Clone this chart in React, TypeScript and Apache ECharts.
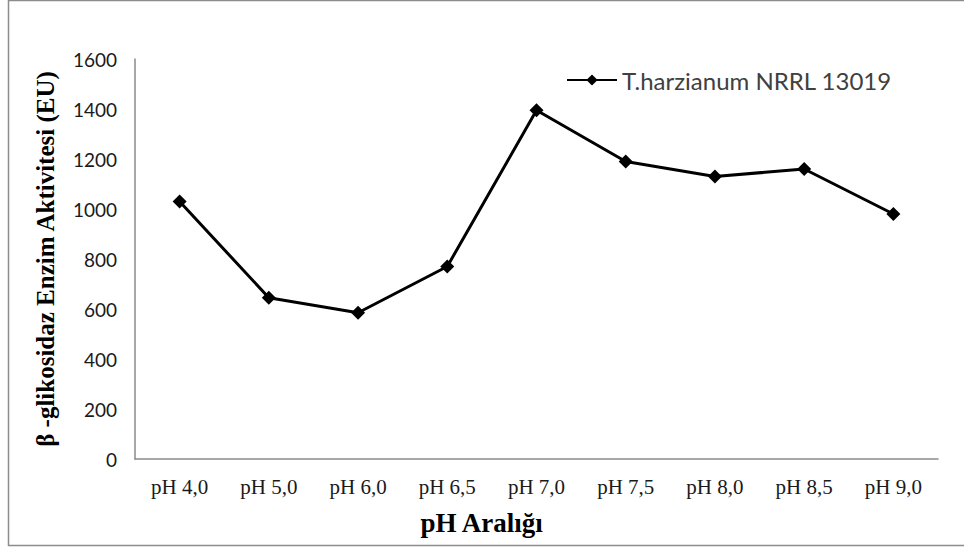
import React, { useEffect, useRef } from "react";
import * as echarts from "echarts";

const categories = ["pH 4,0", "pH 5,0", "pH 6,0", "pH 6,5", "pH 7,0", "pH 7,5", "pH 8,0", "pH 8,5", "pH 9,0"];
const seriesName = "T.harzianum NRRL 13019";
const activity = [1030, 645, 585, 770, 1395, 1190, 1130, 1160, 980];
const yMin = 0;
const yMax = 1600;
const yStep = 200;
const xTitle = "pH Aralığı";
const yTitle = "β -glikosidaz Enzim Aktivitesi (EU)";

export default function App() {
  const ref = useRef<HTMLDivElement>(null);
  useEffect(() => {
    if (!ref.current) return;
    const chart = echarts.init(ref.current, undefined, { renderer: "svg" });
    chart.setOption({
      animation: false,
      backgroundColor: "#ffffff",
      graphic: [
        {
          type: "rect",
          shape: { x: 8.5, y: 0.5, width: 1000, height: 545 },
          style: { fill: "none", stroke: "#8c8c8c", lineWidth: 1.5 },
          silent: true,
        },
      ],
      grid: { left: 135, right: 26, top: 59, bottom: 89, containLabel: false },
      legend: {
        left: 561,
        top: 63,
        itemWidth: 50,
        itemHeight: 14,
        itemGap: 5,
        data: [seriesName],
        textStyle: { fontFamily: "Lato", fontSize: 24, color: "#404040" },
      },
      xAxis: {
        type: "category",
        data: categories,
        boundaryGap: true,
        axisLine: { lineStyle: { color: "#8a8a8a", width: 1.5 } },
        axisTick: { show: false },
        axisLabel: { margin: 17, fontFamily: "Liberation Serif", fontSize: 21, color: "#1a1a1a" },
        name: xTitle,
        nameLocation: "middle",
        nameGap: 50,
        nameTextStyle: {
          fontFamily: "Liberation Serif",
          fontWeight: "bold",
          fontSize: 27,
          color: "#000",
          padding: [0, 110, 0, 0],
        },
      },
      yAxis: {
        type: "value",
        min: yMin,
        max: yMax,
        interval: yStep,
        splitLine: { show: false },
        axisLine: { show: true, lineStyle: { color: "#8a8a8a", width: 1.5 } },
        axisTick: { show: false },
        axisLabel: {
          margin: 18,
          fontFamily: "Lato",
          fontSize: 19,
          color: "#1a1a1a",
          formatter: (v: number) => String(v),
        },
        name: yTitle,
        nameLocation: "middle",
        nameGap: 77,
        nameRotate: 90,
        nameTextStyle: {
          fontFamily: "Liberation Serif",
          fontWeight: "bold",
          fontSize: 25,
          color: "#000",
        },
      },
      series: [
        {
          name: seriesName,
          type: "line",
          data: activity,
          symbol: "diamond",
          symbolSize: 14,
          itemStyle: { color: "#000" },
          lineStyle: { color: "#000", width: 3 },
        },
      ],
    });
    return () => chart.dispose();
  }, []);
  return (
    <div
      ref={ref}
      style={{ position: "fixed", left: 0, top: 0, width: 964, height: 548 }}
    />
  );
}
